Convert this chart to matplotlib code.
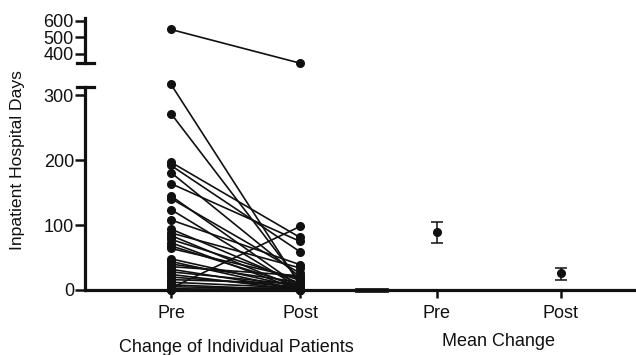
import numpy as np
import matplotlib.pyplot as plt
from matplotlib.lines import Line2D

plt.rcParams['font.family'] = ['Liberation Sans', 'DejaVu Sans']

# days per patient, before and after
pre_days = [547, 317, 272, 197, 192, 181, 164, 145, 141, 124, 108, 94, 88, 84,
            78, 73, 68, 64, 48, 44, 40, 36, 32, 28, 24, 20, 16, 12, 8, 5, 3, 2, 0, 0]
post_days = [345, 8, 12, 81, 59, 20, 75, 5, 26, 3, 39, 10, 34, 2,
             15, 0, 6, 18, 4, 0, 12, 22, 1, 8, 0, 5, 10, 3, 0, 2, 98, 0, 4, 0]

tick_names = ['Pre', 'Post', 'Pre', 'Post']
group_names = ['Change of Individual Patients', 'Mean Change']

mean_days = [89, 26]
mean_err_low = [17, 10]
mean_err_high = [16, 8]

W, H = 636, 355
ink = '#111111'

def box(x0, y0, x1, y1):
    return [x0 / W, 1 - y1 / H, (x1 - x0) / W, (y1 - y0) / H]

fig = plt.figure(figsize=(6.36, 3.55), dpi=100)
ax = fig.add_axes(box(85, 87, 636, 290))
ax_top = fig.add_axes(box(85, 18, 636, 63))

pos_ind = [0, 1]
pos_mean = [2.06, 3.02]
split = 330

for a, b in zip(pre_days, post_days):
    target = ax_top if a > split else ax
    target.plot(pos_ind, [a, b], color=ink, lw=1.2, marker='o', ms=5.5,
                clip_on=False, zorder=3)

ax.errorbar(pos_mean, mean_days, yerr=[mean_err_low, mean_err_high], fmt='o',
            color=ink, ms=5.5, capsize=4, elinewidth=1.1, capthick=1.1, zorder=3)

for a in (ax, ax_top):
    a.set_xlim(-0.667, 3.605)
    a.spines['top'].set_visible(False)
    a.spines['right'].set_visible(False)
    a.spines['left'].set_linewidth(2.3)
    a.spines['left'].set_color(ink)
    a.tick_params(axis='y', length=7, width=1.8, pad=1, labelsize=13, colors=ink)
    a.set_facecolor('none')

ax.set_ylim(0, 313)
ax.set_yticks([0, 100, 200, 300])
ax.spines['bottom'].set_linewidth(2.3)
ax.spines['bottom'].set_color(ink)
ax.set_xticks(pos_ind + pos_mean)
ax.set_xticklabels(tick_names)
ax.tick_params(axis='x', length=6, width=1.8, pad=5, labelsize=13, colors=ink)

ax_top.set_ylim(346, 616)
ax_top.set_yticks([400, 500, 600])
ax_top.spines['bottom'].set_visible(False)
ax_top.set_xticks([])

# axis break caps and the x-axis gap segment
for yy in (63, 87):
    fig.add_artist(Line2D([77 / W, 94 / W], [1 - yy / H, 1 - yy / H], color=ink, lw=2.3))
fig.add_artist(Line2D([357 / W, 386 / W], [1 - 290 / H, 1 - 290 / H], color=ink, lw=3.4))

fig.text(18 / W, 1 - 160 / H, 'Inpatient Hospital Days', rotation=90,
         ha='center', va='center', fontsize=12.6, color=ink)
fig.text(236 / W, 1 - 347 / H, group_names[0], ha='center', va='center',
         fontsize=13, color=ink)
fig.text(499 / W, 1 - 342 / H, group_names[1], ha='center', va='center',
         fontsize=13, color=ink)

fig.savefig('out.png', dpi=100)
